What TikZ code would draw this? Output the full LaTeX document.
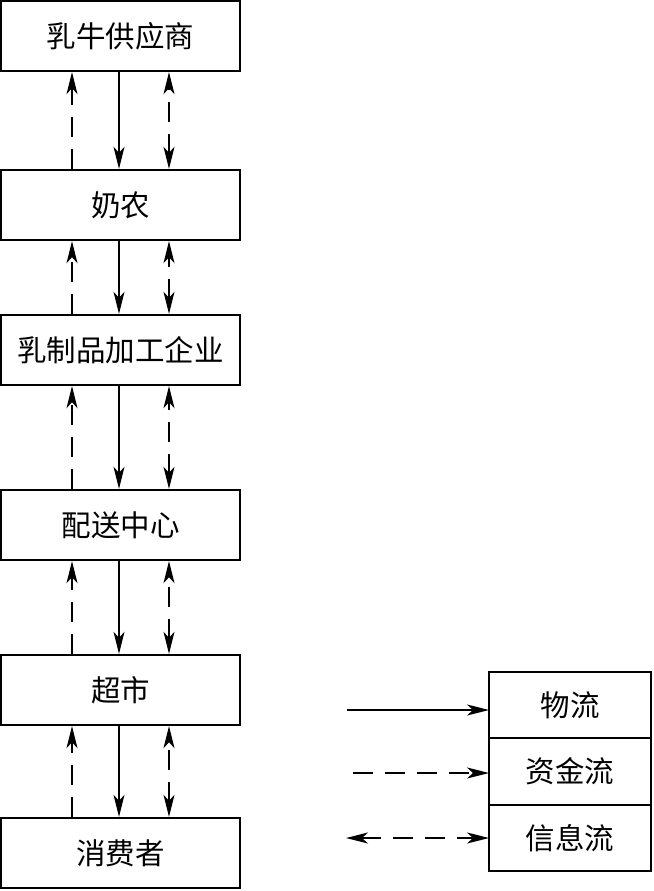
\documentclass[tikz,border=0pt]{standalone}
\usepackage{fontspec}
\newfontfamily\cjk{Noto Sans CJK SC}
\usetikzlibrary{positioning, arrows.meta, calc}

\begin{document}
\begin{tikzpicture}
    [
        x=1pt, y=-1pt,
        font=\cjk\fontsize{29.5}{29.5}\selectfont,
        stage/.style={draw, rectangle, line width=2.4pt, minimum width=239pt, minimum height=70pt, inner sep=0pt},
        keybox/.style={draw, rectangle, line width=2.4pt, minimum width=162pt, minimum height=66.5pt, inner sep=0pt, outer sep=0pt},
        tip/.tip={Stealth[length=22pt, width=11pt, inset=6pt]},
        goods/.style={line width=1.6pt, -tip},
        money/.style={line width=1.6pt, dash pattern=on 20pt off 12pt, -tip},
        info/.style={line width=1.6pt, dash pattern=on 20pt off 12pt, tip-tip}
    ]
        \useasboundingbox (0,0) rectangle (653,891);
        % =========================================================================
        % NODES
        % =========================================================================
        % --- Chain ---
        \node [stage] (supplier) at (120.5,36) {乳牛供应商};
        \node [stage] (farmer) at (120.5,205) {奶农};
        \node [stage] (plant) at (120.5,350) {乳制品加工企业};
        \node [stage] (center) at (120.5,525) {配送中心};
        \node [stage] (market) at (120.5,690) {超市};
        \node [stage] (buyer) at (120.5,853) {消费者};

        % --- Legend ---
        \node [keybox] (keygoods) at (570,705) {物流};
        \node [keybox, below=0pt of keygoods] (keymoney) {资金流};
        \node [keybox, below=0pt of keymoney] (keyinfo) {信息流};
        \coordinate (g0) at (347,710);
        \coordinate (m0) at (353,773);
        \coordinate (i0) at (346,838);

        % =========================================================================
        % PATHS
        % =========================================================================
        % --- VERTICAL ---
        \foreach \lo/\up in {farmer/supplier, plant/farmer, center/plant, market/center, buyer/market}
        {
            \draw [money] ([xshift=-48.5pt]\lo.north) -- ([xshift=-48.5pt]\up.south);
            \draw [goods] ([xshift=-1.5pt]\up.south) -- ([xshift=-1.5pt]\lo.north);
            \draw [info] ([xshift=48.5pt]\lo.north) -- ([xshift=48.5pt]\up.south);
        }

        % --- HORIZONTAL ---
        %  Legend
        \draw [goods] (g0) -- (g0 -| keygoods.west);
        \draw [money] (m0) -- (m0 -| keymoney.west);
        \draw [info] (i0) -- (i0 -| keyinfo.west);

    \end{tikzpicture}
\end{document}
